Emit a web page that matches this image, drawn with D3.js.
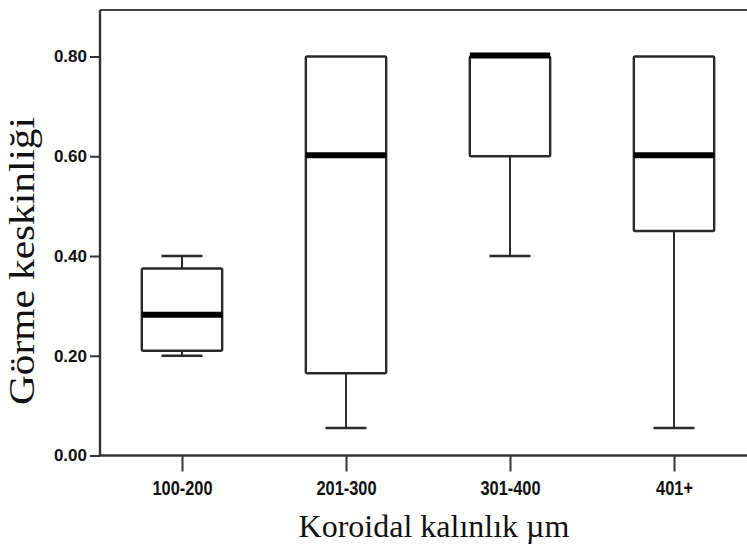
<!DOCTYPE html>
<html>
<head>
<meta charset="utf-8">
<script src="https://cdn.jsdelivr.net/npm/d3@7/dist/d3.min.js"></script>
<style>
  html, body { margin: 0; padding: 0; background: #fff; }
  svg { display: block; }
</style>
</head>
<body>
<svg id="chart" width="747" height="548"></svg>
<script>
// Visual acuity by choroidal thickness group (box plot)
const categories   = ["100-200", "201-300", "301-400", "401+"];
const whiskerLow   = [0.20, 0.055, 0.40, 0.055];
const q1           = [0.21, 0.165, 0.60, 0.45];
const median       = [0.28, 0.60, 0.80, 0.60];
const q3           = [0.375, 0.80, 0.80, 0.80];
const whiskerHigh  = [0.40, 0.80, 0.80, 0.80];
const yTickValues  = [0.00, 0.20, 0.40, 0.60, 0.80];

const yTitle = "Görme keskinliği";
const xTitle = "Koroidal kalınlık µm";

(function draw() {
  const svg = d3.select("#chart");

  // Plot frame (the right side runs past the visible area)
  const frameLeft = 100, frameRight = 756, frameTop = 10, frameBottom = 455.5;

  const x = d3.scalePoint().domain(categories).range([frameLeft, frameRight]).padding(0.5);
  const y = d3.scaleLinear().domain([0, 0.8]).range([frameBottom, 56.5]);

  const boxW = x.step() * 0.49;
  const capW = x.step() * 0.25;

  const stats = categories.map((c, i) => ({
    cat: c, lo: whiskerLow[i], q1: q1[i], med: median[i], q3: q3[i], hi: whiskerHigh[i]
  }));

  // frame lines
  const ink = "#2a2a2a";
  svg.append("line").attr("x1", frameLeft).attr("x2", 760).attr("y1", frameTop).attr("y2", frameTop)
    .attr("stroke", "#444").attr("stroke-width", 2.2);
  svg.append("line").attr("x1", frameLeft).attr("x2", frameLeft).attr("y1", frameTop).attr("y2", frameBottom)
    .attr("stroke", "#333").attr("stroke-width", 2.4);
  svg.append("line").attr("x1", frameLeft - 1).attr("x2", 760).attr("y1", frameBottom).attr("y2", frameBottom)
    .attr("stroke", "#333").attr("stroke-width", 2.6);

  // y axis
  const yAxis = svg.append("g")
    .attr("transform", `translate(${frameLeft},0)`)
    .call(d3.axisLeft(y).tickValues(yTickValues).tickFormat(d3.format(".2f"))
          .tickSize(10).tickPadding(3));
  yAxis.select(".domain").remove();
  yAxis.selectAll(".tick line").attr("stroke", "#333").attr("stroke-width", 2);
  yAxis.selectAll(".tick text")
    .attr("x", -13)
    .attr("fill", "#111")
    .style("font-family", "'Liberation Sans', Arial, sans-serif")
    .style("font-size", "17px")
    .style("font-weight", "bold");

  // x axis
  const xAxis = svg.append("g")
    .attr("transform", `translate(0,${frameBottom})`)
    .call(d3.axisBottom(x).tickSize(16).tickPadding(8));
  xAxis.select(".domain").remove();
  xAxis.selectAll(".tick line").attr("stroke", "#333").attr("stroke-width", 2);
  xAxis.selectAll(".tick text")
    .attr("y", 39.5).attr("dy", null)
    .attr("fill", "#111")
    .style("font-family", "'Liberation Sans', Arial, sans-serif")
    .style("font-size", "21px")
    .style("font-weight", "bold")
    .each(function () {
      const w = this.getComputedTextLength();
      d3.select(this).attr("textLength", w * 0.78).attr("lengthAdjust", "spacingAndGlyphs");
    });

  // boxes
  const g = svg.append("g").attr("class", "boxes");
  const box = g.selectAll("g.box").data(stats).join("g").attr("class", "box");

  // lower whisker
  box.filter(d => d.lo < d.q1).append("line")
    .attr("x1", d => x(d.cat)).attr("x2", d => x(d.cat))
    .attr("y1", d => y(d.q1)).attr("y2", d => y(d.lo))
    .attr("stroke", ink).attr("stroke-width", 2);
  box.filter(d => d.lo < d.q1).append("line")
    .attr("x1", d => x(d.cat) - capW / 2).attr("x2", d => x(d.cat) + capW / 2)
    .attr("y1", d => y(d.lo)).attr("y2", d => y(d.lo))
    .attr("stroke", ink).attr("stroke-width", 2.4);

  // upper whisker
  box.filter(d => d.hi > d.q3).append("line")
    .attr("x1", d => x(d.cat)).attr("x2", d => x(d.cat))
    .attr("y1", d => y(d.q3)).attr("y2", d => y(d.hi))
    .attr("stroke", ink).attr("stroke-width", 2);
  box.filter(d => d.hi > d.q3).append("line")
    .attr("x1", d => x(d.cat) - capW / 2).attr("x2", d => x(d.cat) + capW / 2)
    .attr("y1", d => y(d.hi)).attr("y2", d => y(d.hi))
    .attr("stroke", ink).attr("stroke-width", 2.4);

  // interquartile box
  box.append("rect")
    .attr("x", d => x(d.cat) - boxW / 2)
    .attr("width", boxW)
    .attr("y", d => y(d.q3))
    .attr("height", d => y(d.q1) - y(d.q3))
    .attr("fill", "#fff")
    .attr("stroke", ink).attr("stroke-width", 2.4)
    .attr("rx", 1.5);

  // median
  box.append("line")
    .attr("x1", d => x(d.cat) - boxW / 2).attr("x2", d => x(d.cat) + boxW / 2)
    .attr("y1", d => y(d.med) - 1).attr("y2", d => y(d.med) - 1)
    .attr("stroke", "#000").attr("stroke-width", 6);

  // axis titles
  svg.append("text")
    .attr("transform", "translate(34,261) rotate(-90)")
    .attr("text-anchor", "middle")
    .attr("fill", "#111")
    .attr("textLength", 288).attr("lengthAdjust", "spacingAndGlyphs")
    .style("font-family", "'Liberation Serif', 'Times New Roman', serif")
    .style("font-size", "36px")
    .text(yTitle);

  svg.append("text")
    .attr("x", 434).attr("y", 537)
    .attr("text-anchor", "middle")
    .attr("fill", "#111")
    .style("font-family", "'Liberation Serif', 'Times New Roman', serif")
    .style("font-size", "32px")
    .text(xTitle);
})();
</script>
</body>
</html>
